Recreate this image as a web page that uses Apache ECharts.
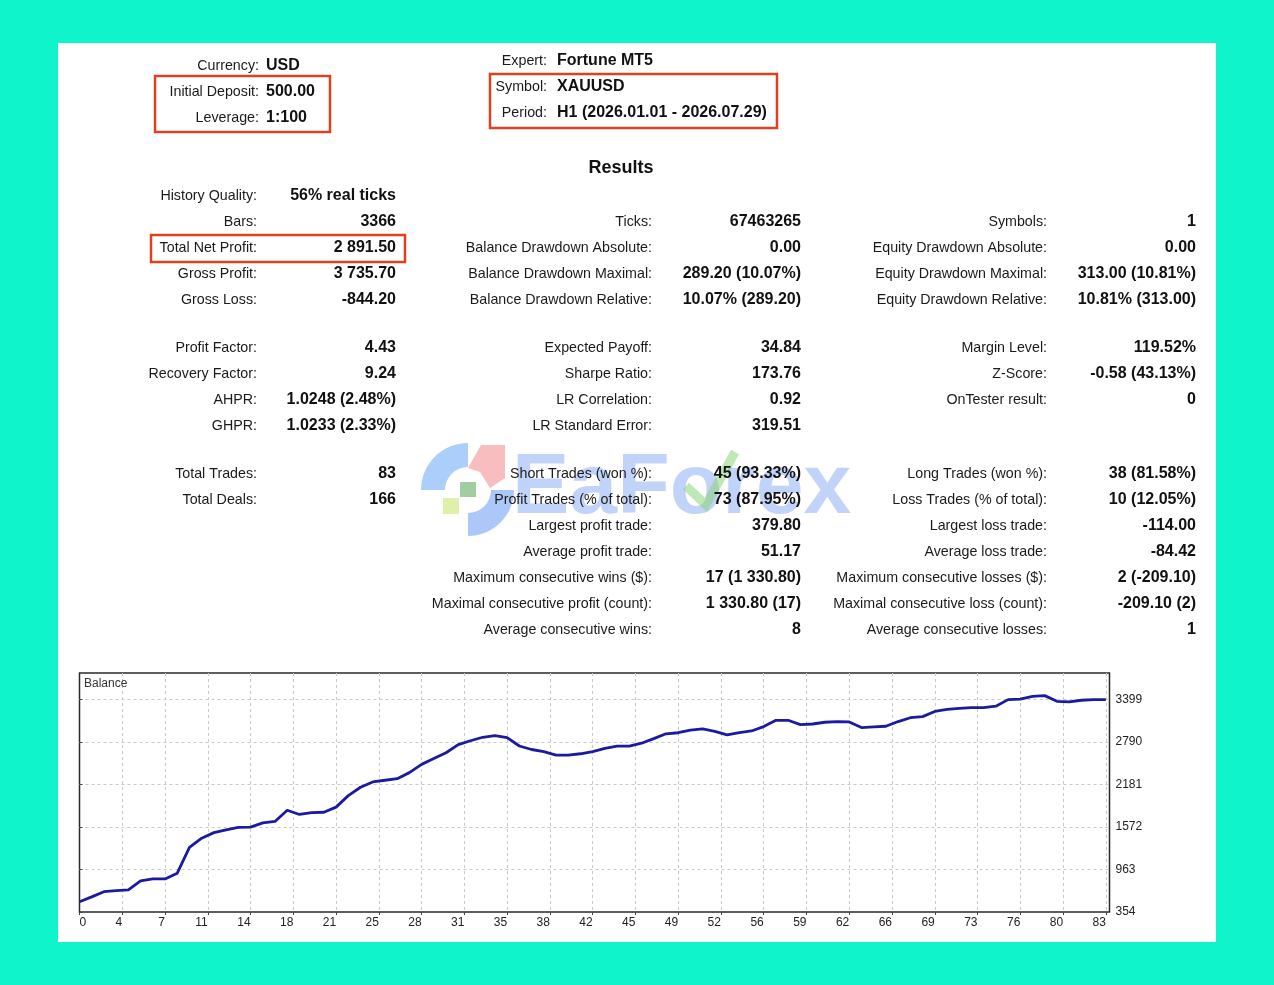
<!DOCTYPE html>
<html>
<head>
<meta charset="utf-8">
<script src="https://cdn.jsdelivr.net/npm/echarts@6/dist/echarts.min.js"></script>
<style>
html,body{margin:0;padding:0;background:#10f4cc;}
#chart{width:1274px;height:985px;}
</style>
</head>
<body>
<div id="chart"></div>
<script>
// ---------- data ----------
const balance = [500,570,645,660,671,800,827,827,910,1280,1410,1490,1530,1565,1569,1630,1650,1810,1750,1775,1782,1855,2020,2140,2215,2240,2262,2349,2467,2550,2633,2750,2805,2855,2880,2850,2730,2680,2650,2600,2600,2619,2651,2695,2727,2727,2770,2835,2905,2920,2958,2975,2940,2889,2922,2945,3008,3098,3098,3037,3045,3070,3080,3075,2994,3005,3013,3080,3135,3151,3225,3255,3270,3280,3280,3300,3394,3400,3440,3451,3370,3361,3385,3394,3394];
const xTickLabels = ['0','4','7','11','14','18','21','25','28','31','35','38','42','45','49','52','56','59','62','66','69','73','76','80','83'];
const yTickValues = [354, 963, 1572, 2181, 2790, 3399];

const headLeftLabels = ['Currency:', 'Initial Deposit:', 'Leverage:'];
const headLeftValues = ['USD', '500.00', '1:100'];
const headRightLabels = ['Expert:', 'Symbol:', 'Period:'];
const headRightValues = ['Fortune MT5', 'XAUUSD', 'H1 (2026.01.01 - 2026.07.29)'];

const col1Labels = ['History Quality:', 'Bars:', 'Total Net Profit:', 'Gross Profit:', 'Gross Loss:', 'Profit Factor:', 'Recovery Factor:', 'AHPR:', 'GHPR:', 'Total Trades:', 'Total Deals:'];
const col1Values = ['56% real ticks', '3366', '2 891.50', '3 735.70', '-844.20', '4.43', '9.24', '1.0248 (2.48%)', '1.0233 (2.33%)', '83', '166'];
const col2Labels = ['Ticks:', 'Balance Drawdown Absolute:', 'Balance Drawdown Maximal:', 'Balance Drawdown Relative:', 'Expected Payoff:', 'Sharpe Ratio:', 'LR Correlation:', 'LR Standard Error:', 'Short Trades (won %):', 'Profit Trades (% of total):', 'Largest profit trade:', 'Average profit trade:', 'Maximum consecutive wins ($):', 'Maximal consecutive profit (count):', 'Average consecutive wins:'];
const col2Values = ['67463265', '0.00', '289.20 (10.07%)', '10.07% (289.20)', '34.84', '173.76', '0.92', '319.51', '45 (93.33%)', '73 (87.95%)', '379.80', '51.17', '17 (1 330.80)', '1 330.80 (17)', '8'];
const col3Labels = ['Symbols:', 'Equity Drawdown Absolute:', 'Equity Drawdown Maximal:', 'Equity Drawdown Relative:', 'Margin Level:', 'Z-Score:', 'OnTester result:', 'Long Trades (won %):', 'Loss Trades (% of total):', 'Largest loss trade:', 'Average loss trade:', 'Maximum consecutive losses ($):', 'Maximal consecutive loss (count):', 'Average consecutive losses:'];
const col3Values = ['1', '0.00', '313.00 (10.81%)', '10.81% (313.00)', '119.52%', '-0.58 (43.13%)', '0', '38 (81.58%)', '10 (12.05%)', '-114.00', '-84.42', '2 (-209.10)', '-209.10 (2)', '1'];

// ---------- layout ----------
const FONT = "'Liberation Sans', Arial, sans-serif";
const col1Y = [196, 222, 248, 274, 300, 348, 374, 400, 426, 474, 500];
const col2Y = [222, 248, 274, 300, 348, 374, 400, 426, 474, 500, 526, 552, 578, 604, 630];
const col3Y = [222, 248, 274, 300, 348, 374, 400, 474, 500, 526, 552, 578, 604, 630];

const graphics = [];
graphics.push({type:'rect', z:-10, shape:{x:58, y:43, width:1158, height:899}, style:{fill:'#ffffff'}});

// watermark logo (drawn beneath text)
graphics.push({type:'sector', z:2, shape:{cx:468, cy:490, r:47, r0:23, startAngle:Math.PI, endAngle:Math.PI*1.5}, style:{fill:'#8fbff8', opacity:0.75}});
graphics.push({type:'sector', z:2, shape:{cx:468, cy:490, r:46, r0:23, startAngle:0, endAngle:Math.PI*0.5}, style:{fill:'#90b6f7', opacity:0.75}});
graphics.push({type:'polygon', z:2, shape:{points:[[468,468],[481,445],[505,445],[505,478],[490,488],[480,472]]}, style:{fill:'#f5a7a9', opacity:0.75}});
graphics.push({type:'rect', z:2, shape:{x:460, y:482, width:16, height:15}, style:{fill:'#96c996', opacity:0.9}});
graphics.push({type:'rect', z:2, shape:{x:443, y:498, width:16, height:16}, style:{fill:'#dbef9e', opacity:0.9}});
graphics.push({type:'text', x:512, y:489, z:2, style:{text:'EaForex', font:'bold 86px ' + FONT, fill:'#86a8f6', opacity:0.5, align:'left', verticalAlign:'middle'}});
graphics.push({type:'polyline', z:2, shape:{points:[[686,486],[706,505],[735,452]]}, style:{stroke:'#8cd37a', lineWidth:9, opacity:0.55, fill:null}});

function addPair(lbl, val, lx, vx, y, valAlign) {
  graphics.push({type:'text', x:lx, y:y, z:5, scaleX:0.95, style:{text:lbl, font:'15px ' + FONT, fill:'#1a1a1a', align:'right', verticalAlign:'middle'}});
  graphics.push({type:'text', x:vx, y:y, z:5, style:{text:val, font:'bold 16px ' + FONT, fill:'#111111', align:valAlign, verticalAlign:'middle'}});
}
const headLeftY = [66, 92, 118];
const headRightY = [61, 87, 113];
headLeftLabels.forEach((l, i) => addPair(l, headLeftValues[i], 259, 266, headLeftY[i], 'left'));
headRightLabels.forEach((l, i) => addPair(l, headRightValues[i], 547, 557, headRightY[i], 'left'));
col1Labels.forEach((l, i) => addPair(l, col1Values[i], 257, 396, col1Y[i], 'right'));
col2Labels.forEach((l, i) => addPair(l, col2Values[i], 652, 801, col2Y[i], 'right'));
col3Labels.forEach((l, i) => addPair(l, col3Values[i], 1047, 1196, col3Y[i], 'right'));

graphics.push({type:'text', x:621, y:168, z:5, style:{text:'Results', font:'bold 18px ' + FONT, fill:'#111', align:'center', verticalAlign:'middle'}});

// red highlight boxes
const redBox = {stroke:'#e0401f', lineWidth:2.5, fill:null};
graphics.push({type:'rect', z:6, shape:{x:155, y:76, width:175, height:56}, style:redBox});
graphics.push({type:'rect', z:6, shape:{x:490, y:74, width:287, height:54}, style:redBox});
graphics.push({type:'rect', z:6, shape:{x:151, y:235, width:254, height:27}, style:redBox});

// chart label
graphics.push({type:'text', x:84, y:684, z:5, style:{text:'Balance', font:'12px ' + FONT, fill:'#333', align:'left', verticalAlign:'middle'}});

const chart = echarts.init(document.getElementById('chart'));
chart.setOption({
  backgroundColor: '#10f4cc',
  animation: false,
  grid: {left: 79.5, right: 164.5, top: 673, bottom: 73, show: true, backgroundColor: '#ffffff', borderColor: '#2a2a2a', borderWidth: 1.5},
  xAxis: {
    type: 'value', min: 0, max: 84.3, interval: 3.5,
    axisLine: {show: false},
    axisTick: {show: true, length: 3, lineStyle: {color: '#444'}},
    axisLabel: {
      showMaxLabel: false, align: 'right', alignMinLabel: 'left', margin: 5,
      color: '#222', fontSize: 12, fontFamily: FONT,
      formatter: v => { const i = Math.round(v / 3.5); return Math.abs(i * 3.5 - v) < 1e-6 && xTickLabels[i] !== undefined ? xTickLabels[i] : ''; }
    },
    splitLine: {show: true, showMinLine: false, showMaxLine: false, lineStyle: {color: '#c9c9c9', type: [3, 3], width: 1}}
  },
  yAxis: {
    type: 'value', position: 'right', min: 354, max: 3775,
    axisLine: {show: false},
    axisTick: {show: true, length: 3, customValues: yTickValues, lineStyle: {color: '#444'}},
    axisLabel: {customValues: yTickValues, margin: 6, color: '#222', fontSize: 12, fontFamily: FONT, formatter: v => String(v)},
    splitLine: {show: true, showMinLine: false, lineStyle: {color: '#c9c9c9', type: [3, 3], width: 1}}
  },
  series: [{
    type: 'line', name: 'Balance',
    data: balance.map((v, i) => [i, v]),
    showSymbol: false, symbol: 'none',
    lineStyle: {color: '#1b1ba0', width: 2.8},
    z: 3
  }],
  graphic: graphics
});
</script>
</body>
</html>
